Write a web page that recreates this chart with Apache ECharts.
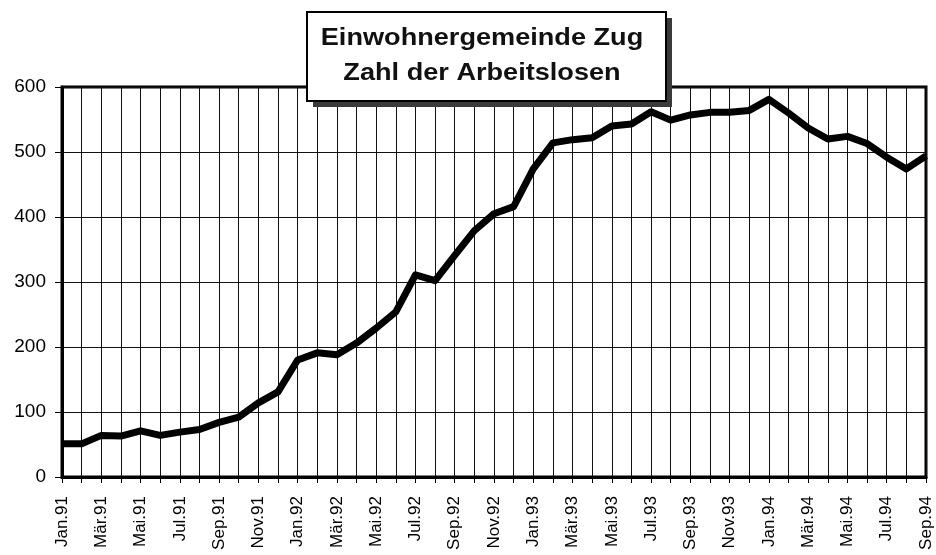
<!DOCTYPE html>
<html>
<head>
<meta charset="utf-8">
<script src="https://cdn.jsdelivr.net/npm/echarts@6/dist/echarts.min.js"></script>
<style>
  html, body { margin: 0; padding: 0; background: #fff; }
  #chart { width: 936px; height: 555px; }
</style>
</head>
<body>
<div id="chart"></div>
<script>
// Monatswerte Jan.91 - Sep.94
let months = [
  'Jan.91','Feb.91','Mär.91','Apr.91','Mai.91','Jun.91','Jul.91','Aug.91','Sep.91','Okt.91','Nov.91','Dez.91',
  'Jan.92','Feb.92','Mär.92','Apr.92','Mai.92','Jun.92','Jul.92','Aug.92','Sep.92','Okt.92','Nov.92','Dez.92',
  'Jan.93','Feb.93','Mär.93','Apr.93','Mai.93','Jun.93','Jul.93','Aug.93','Sep.93','Okt.93','Nov.93','Dez.93',
  'Jan.94','Feb.94','Mär.94','Apr.94','Mai.94','Jun.94','Jul.94','Aug.94','Sep.94'
];
let arbeitslose = [
  51, 51, 64, 63, 71, 64, 69, 73, 84, 92, 114, 131,
  180, 191, 188, 206, 229, 254, 311, 302, 341, 379, 405, 416,
  474, 514, 519, 522, 540, 543, 562, 549, 557, 561, 561, 564,
  581, 560, 537, 520, 524, 513, 492, 474, 494
];
let yTicks = [0, 100, 200, 300, 400, 500, 600];

let titleLines = ['Einwohnergemeinde Zug', 'Zahl der Arbeitslosen'];

let chart = echarts.init(document.getElementById('chart'));

let option = {
  animation: false,
  backgroundColor: '#fff',
  grid: {
    left: 62, right: 10, top: 87, bottom: 78,
    show: true, borderColor: '#000', borderWidth: 3
  },
  xAxis: {
    type: 'category',
    data: months,
    boundaryGap: false,
    axisLine: { lineStyle: { color: '#000', width: 3 } },
    axisTick: { show: true, interval: 0, length: 6, lineStyle: { color: '#000', width: 1 } },
    axisLabel: {
      interval: 1, rotate: 90, margin: 19,
      fontFamily: 'Liberation Sans, Arial', fontSize: 17, color: '#000'
    },
    splitLine: { show: true, interval: 0, lineStyle: { color: '#111', width: 1 } }
  },
  yAxis: {
    type: 'value',
    min: yTicks[0], max: yTicks[yTicks.length - 1], interval: 100,
    axisLine: { show: true, lineStyle: { color: '#000', width: 3 } },
    axisTick: { show: true, length: 7, lineStyle: { color: '#000', width: 1 } },
    axisLabel: {
      margin: 16,
      fontFamily: 'Liberation Sans, Arial', fontSize: 19, color: '#000'
    },
    splitLine: { show: true, lineStyle: { color: '#111', width: 1 } }
  },
  series: [{
    type: 'line',
    data: arbeitslose,
    symbol: 'none',
    lineStyle: { color: '#000', width: 7, join: 'round' }
  }],
  graphic: [
    // Schatten des Titelkastens
    { type: 'rect', left: 313, top: 18, z: 100,
      shape: { width: 359, height: 89 }, style: { fill: '#3a3a3a' } },
    { type: 'rect', left: 306, top: 11, z: 101,
      shape: { width: 359, height: 89 },
      style: { fill: '#fff', stroke: '#000', lineWidth: 2 } },
    { type: 'text', x: 482, y: 38, z: 102, scaleX: 1.13, originX: 0, originY: 0,
      style: { text: titleLines[0], fontFamily: 'Liberation Sans, Arial', fontWeight: 'bold',
               fontSize: 24, fill: '#111', align: 'center', verticalAlign: 'middle' } },
    { type: 'text', x: 482, y: 73, z: 102, scaleX: 1.13, originX: 0, originY: 0,
      style: { text: titleLines[1], fontFamily: 'Liberation Sans, Arial', fontWeight: 'bold',
               fontSize: 24, fill: '#111', align: 'center', verticalAlign: 'middle' } }
  ]
};

chart.setOption(option);
</script>
</body>
</html>
